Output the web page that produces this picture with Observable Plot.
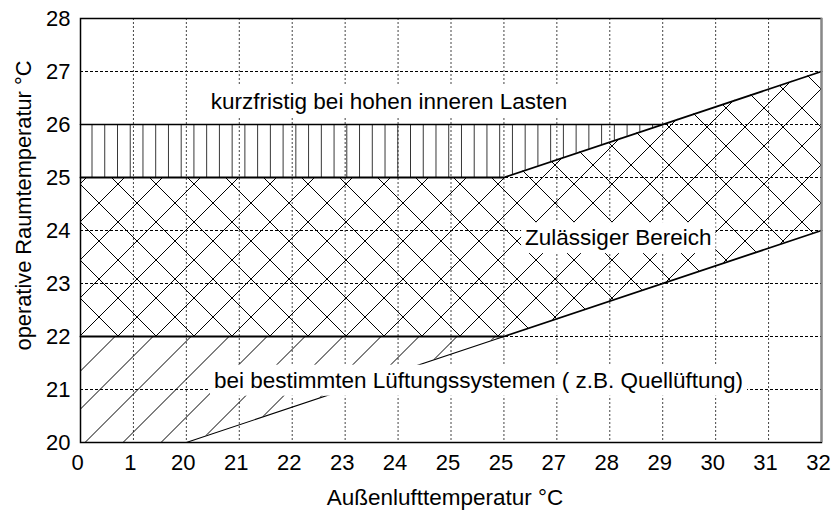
<!DOCTYPE html>
<html><head><meta charset="utf-8">
<script src="https://cdn.jsdelivr.net/npm/d3@7"></script>
<script src="https://cdn.jsdelivr.net/npm/@observablehq/plot@0.6"></script>
<style>body{margin:0;background:#fff;} svg{display:block}</style>
</head><body><div id="chart"></div>
<script>
// x axis: evenly spaced categories (index 0..14) with the original's labels
const xTickLabels = ["0","1","20","21","22","23","24","25","25","27","28","29","30","31","32"];
const xTickPos = xTickLabels.map((_, i) => i);
const yTicks = [20, 21, 22, 23, 24, 25, 26, 27, 28];
const xGridPos = xTickPos.slice(1, -1);
const yGridPos = yTicks.slice(1, -1);

// Zulässiger Bereich (cross-hatched)
const comfortX = [0, 8, 14];
const comfortLow = [22, 22, 24];
const comfortHigh = [25, 25, 27];
// kurzfristig bei hohen inneren Lasten (vertical hatch)
const peakX = [0, 8, 11];
const peakLow = [25, 25, 26];
const peakHigh = [26, 26, 26];
// bei bestimmten Lüftungssystemen (diagonal hatch)
const ventX = [0, 2, 8];
const ventLow = [20, 20, 22];
const ventHigh = [22, 22, 22];

const annotationTexts = ["kurzfristig bei hohen inneren Lasten", "Zulässiger Bereich", "bei bestimmten Lüftungssystemen ( z.B. Quellüftung)"];
const annotationX = [5.83, 10.16, 7.52];
const annotationY = [26.43, 23.86, 21.17];

const xLabel = "Außenlufttemperatur °C";
const yLabel = "operative Raumtemperatur °C";

const rows = (xs, lo, hi) => xs.map((x, i) => ({x, lo: lo[i], hi: hi[i]}));
const comfort = rows(comfortX, comfortLow, comfortHigh);
const peak = rows(peakX, peakLow, peakHigh);
const vent = rows(ventX, ventLow, ventHigh);
const annotations = annotationTexts.map((t, i) => ({t, x: annotationX[i], y: annotationY[i]}));

const font = "Liberation Sans, Arial, Helvetica, sans-serif";
const fs = 22.5;
const hasAxisMark = typeof Plot.axisX === "function";

const xAxisMarks = hasAxisMark
  ? [Plot.axisX(xTickPos, {tickFormat: i => xTickLabels[i], tickSize: 0, tickPadding: 12, fontSize: 22, dx: -3, label: null})]
  : [];

const svg = Plot.plot({
  width: 832,
  height: 513,
  marginLeft: 80,
  marginRight: 11,
  marginTop: 18,
  marginBottom: 71,
  style: {fontFamily: font, fontSize: "22px", background: "white", color: "black"},
  x: hasAxisMark
    ? {domain: [0, 14], axis: null}
    : {domain: [0, 14], ticks: xTickPos, tickFormat: i => xTickLabels[i], tickSize: 0, tickPadding: 12, label: null, fontSize: 22},
  y: {domain: [20, 28], ticks: yTicks, tickFormat: d => String(d), tickSize: 0, tickPadding: 10, label: null, fontSize: 22},
  marks: [
    Plot.ruleY(yGridPos, {stroke: "#000", strokeDasharray: "3,2", strokeWidth: 1}),
    Plot.ruleX(xGridPos, {stroke: "#444", strokeDasharray: "2,2", strokeWidth: 1}),
    Plot.areaY(vent, {x: "x", y1: "lo", y2: "hi", fill: "url(#hatch-diag)"}),
    Plot.areaY(comfort, {x: "x", y1: "lo", y2: "hi", fill: "url(#hatch-cross)"}),
    Plot.areaY(peak, {x: "x", y1: "lo", y2: "hi", fill: "url(#hatch-vert)"}),
    Plot.line(vent, {x: "x", y: "lo", stroke: "#000", strokeWidth: 1.1}),
    Plot.line(comfort, {x: "x", y: "lo", stroke: "#000", strokeWidth: 1.8}),
    Plot.line(comfort, {x: "x", y: "hi", stroke: "#000", strokeWidth: 1.8}),
    Plot.line(peak, {x: "x", y: "hi", stroke: "#000", strokeWidth: 1.6}),
    Plot.frame({stroke: "#000", strokeWidth: 1.5}),
    Plot.ruleX([14], {stroke: "#888", strokeWidth: 2}),
    ...xAxisMarks,
    Plot.text(annotations, {x: "x", y: "y", text: "t", fontSize: fs, fill: "#000", fontFamily: font}),
    Plot.text([xLabel], {frameAnchor: "bottom", textAnchor: "middle", lineAnchor: "middle", dx: -6, dy: 55, fontSize: fs, fill: "#000", fontFamily: font}),
    Plot.text([yLabel], {frameAnchor: "left", textAnchor: "middle", lineAnchor: "middle", rotate: -90, dx: -56, dy: -25, fontSize: 21.8, fill: "#000", fontFamily: font})
  ]
});

// hatch patterns (styling only)
const defs = d3.select(svg).insert("defs", ":first-child");
const cross = defs.append("pattern").attr("id", "hatch-cross").attr("patternUnits", "userSpaceOnUse")
  .attr("x", 4).attr("y", 32).attr("width", 38).attr("height", 38);
cross.append("path")
  .attr("d", "M-2,2L2,-2M-2,40L40,-2M36,40L40,36M-2,36L2,40M-2,-2L40,40M36,-2L40,2")
  .attr("stroke", "#000").attr("stroke-width", 1).attr("fill", "none");
const diag = defs.append("pattern").attr("id", "hatch-diag").attr("patternUnits", "userSpaceOnUse")
  .attr("x", 1.5).attr("y", 32).attr("width", 38).attr("height", 38);
diag.append("path")
  .attr("d", "M-2,2L2,-2M-2,40L40,-2M36,40L40,36")
  .attr("stroke", "#000").attr("stroke-width", 1).attr("fill", "none");
const vw = 12.74;
const vert = defs.append("pattern").attr("id", "hatch-vert").attr("patternUnits", "userSpaceOnUse")
  .attr("x", ((92 - vw / 2) % vw)).attr("y", 0).attr("width", vw).attr("height", 10);
vert.append("path")
  .attr("d", `M${vw / 2},-1L${vw / 2},11`)
  .attr("stroke", "#333").attr("stroke-width", 1).attr("fill", "none");

document.getElementById("chart").appendChild(svg);

// white boxes behind the annotation texts
d3.select(svg).selectAll("text").each(function () {
  if (!annotationTexts.includes(this.textContent)) return;
  const b = this.getBBox();
  const padX = 4, padY = 3;
  const r = document.createElementNS("http://www.w3.org/2000/svg", "rect");
  r.setAttribute("x", b.x - padX);
  r.setAttribute("y", b.y - padY);
  r.setAttribute("width", b.width + 2 * padX);
  r.setAttribute("height", b.height + 2 * padY);
  r.setAttribute("fill", "#fff");
  const tr = this.getAttribute("transform");
  if (tr) r.setAttribute("transform", tr);
  this.parentNode.insertBefore(r, this);
});
</script>
</body></html>
